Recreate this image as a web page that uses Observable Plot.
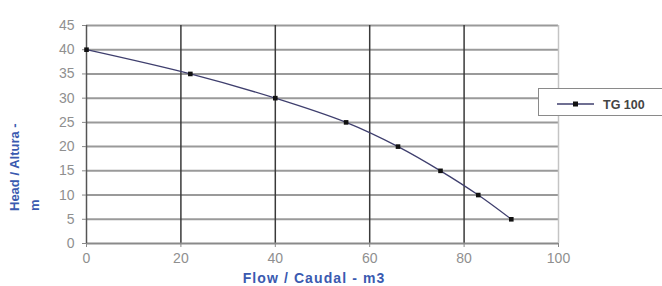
<!DOCTYPE html>
<html>
<head>
<meta charset="utf-8">
<script src="https://cdn.jsdelivr.net/npm/d3@7"></script>
<script src="https://cdn.jsdelivr.net/npm/@observablehq/plot@0.6"></script>
<style>
  html, body { margin: 0; padding: 0; background: #fff; }
  #wrap { position: relative; width: 662px; height: 286px; overflow: hidden; font-family: "Liberation Sans", Arial, sans-serif; }
  #legend { position: absolute; left: 538px; top: 88px; width: 140px; height: 28px; border: 1px solid #8a8a8a; background: #fff; box-sizing: border-box; }
</style>
</head>
<body>
<div id="wrap"></div>
<script>
const seriesName = "TG 100";
const flow = [0, 22, 40, 55, 66, 75, 83, 90];
const head = [40, 35, 30, 25, 20, 15, 10, 5];
const xTicks = [0, 20, 40, 60, 80, 100];
const yTicks = [0, 5, 10, 15, 20, 25, 30, 35, 40, 45];
const xLabel = "Flow / Caudal - m3";
const yLabelLines = ["Head / Altura -", "m"];

const data = flow.map((f, i) => ({flow: f, head: head[i]}));

const plot = Plot.plot({
  width: 662,
  height: 286,
  marginLeft: 86,
  marginRight: 104,
  marginTop: 25,
  marginBottom: 43,
  style: {fontFamily: "'Liberation Sans', Arial, sans-serif", fontSize: "13px", background: "#fff"},
  x: {domain: [0, 100], ticks: xTicks, label: null},
  y: {domain: [0, 45], ticks: yTicks, label: null},
  marks: [
    Plot.ruleY(yTicks.filter(d => d > 0), {stroke: "#9a9a9a", strokeWidth: 2, strokeOpacity: 1}),
    Plot.ruleX(xTicks.filter(d => d > 0 && d < 100), {stroke: "#3a3a3a", strokeWidth: 1.5, strokeOpacity: 1}),
    Plot.ruleX([100], {stroke: "#c4c4c4", strokeWidth: 1.5}),
    Plot.ruleY([0], {stroke: "#8a8a8a", strokeWidth: 2}),
    Plot.ruleX([0], {stroke: "#555", strokeWidth: 1.5}),
    Plot.axisY({ticks: yTicks, tickSize: 4, tickPadding: 8, stroke: "#888", fill: "#8f8f8f", fontSize: 14, label: null}),
    Plot.axisX({ticks: xTicks, tickSize: 4, tickPadding: 6, stroke: "#888", fill: "#8f8f8f", fontSize: 14, label: null}),
    Plot.line(data, {x: "flow", y: "head", curve: "catmull-rom", stroke: "#3f3f6e", strokeWidth: 1.3}),
    Plot.dot(data, {x: "flow", y: "head", symbol: "square", r: 2.6, fill: "#111", stroke: "none"})
  ]
});

const wrap = document.getElementById("wrap");
wrap.appendChild(plot);

const svg = d3.select(plot);
svg.append("text")
  .attr("x", 314).attr("y", 283)
  .attr("text-anchor", "middle")
  .attr("fill", "#3a5ab0").attr("font-weight", "bold").attr("font-size", 14)
  .attr("letter-spacing", "1.1px")
  .attr("font-family", "'Liberation Sans', Arial, sans-serif")
  .text(xLabel);

const yl = svg.append("text")
  .attr("transform", "translate(19,211) rotate(-90)")
  .attr("text-anchor", "start")
  .attr("fill", "#3a5ab0").attr("font-weight", "bold").attr("font-size", 13)
  .attr("font-family", "'Liberation Sans', Arial, sans-serif");
yLabelLines.forEach((t, i) => {
  yl.append("tspan").attr("x", 0).attr("dy", i === 0 ? 0 : 20).text(t);
});

// legend
const leg = document.createElement("div");
leg.id = "legend";
wrap.appendChild(leg);
const ls = d3.select(leg).append("svg").attr("width", 140).attr("height", 28);
ls.append("line").attr("x1", 18).attr("x2", 55).attr("y1", 15).attr("y2", 15).attr("stroke", "#3f3f6e").attr("stroke-width", 1.3);
ls.append("rect").attr("x", 34).attr("y", 12.5).attr("width", 5).attr("height", 5).attr("fill", "#111");
ls.append("text").attr("x", 64).attr("y", 19.5).attr("font-size", 12.5).attr("font-weight", "bold")
  .attr("fill", "#444").attr("font-family", "'Liberation Sans', Arial, sans-serif").text(seriesName);
</script>
</body>
</html>
